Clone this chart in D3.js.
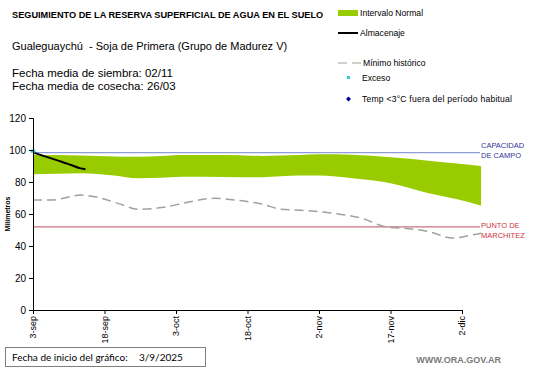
<!DOCTYPE html>
<html><head><meta charset="utf-8">
<script src="https://cdn.jsdelivr.net/npm/d3@7"></script>
<style>
html,body{margin:0;padding:0;background:#fff;}
svg{display:block;font-family:"Liberation Sans",Arial,sans-serif;}
</style></head>
<body><svg id="c" width="541" height="368"></svg>
<script>
// ---- data ----
const xTickDays = [0, 15, 30, 45, 60, 75, 90];
const xTickLabels = ["3-sep", "18-sep", "3-oct", "18-oct", "2-nov", "17-nov", "2-dic"];
const yTicks = [0, 20, 40, 60, 80, 100, 120];

const bandDays  = [0, 5, 10, 17, 22, 27, 31, 40, 48, 56, 60, 67, 75, 83, 89, 94];
const bandUpper = [97, 96.8, 96.5, 96, 95.8, 96.3, 96.9, 96.8, 96.3, 96.8, 97.3, 97, 95.4, 93.3, 91.5, 90];
const bandLower = [84.8, 85.1, 85.4, 84, 82.3, 82.6, 83.3, 83.2, 83, 84, 84, 82.3, 79.2, 73, 69.2, 65.2];

const minDays   = [0, 4, 10, 13, 18, 22, 27, 33, 38, 43, 48, 52, 57, 62, 69, 74, 79, 83, 88, 92, 94];
const minValues = [68.8, 68.8, 71.8, 70.8, 66.5, 63, 64, 67.7, 69.8, 68.5, 66.2, 63, 62.2, 60.8, 57.3, 52, 50.8, 49, 45, 46.8, 48];

const storageDays   = [0, 2, 4, 6, 8, 10, 11];
const storageValues = [98.5, 96.5, 94.6, 92.7, 90.6, 88.5, 88];

const excessDays   = [0];
const excessValues = [99.3];

const capacity = 98.3;
const wilting  = 52;

// ---- drawing ----
const svg = d3.select("#c");
const x = d3.scaleLinear().domain([0, 90]).range([33, 462]);
const y = d3.scaleLinear().domain([0, 120]).range([310, 118]);

// band
const band = bandDays.map((d, i) => ({d, u: bandUpper[i], l: bandLower[i]}));
svg.append("path").datum(band)
  .attr("fill", "#99cc00")
  .attr("d", d3.area().x(p => x(p.d)).y0(p => y(p.l)).y1(p => y(p.u)).curve(d3.curveMonotoneX));

// reference lines
svg.append("line").attr("x1", x(0)).attr("x2", 480).attr("y1", y(capacity)).attr("y2", y(capacity))
  .attr("stroke", "#8f9fd6").attr("stroke-width", 1.2);
svg.append("line").attr("x1", x(0)).attr("x2", 480).attr("y1", y(wilting)).attr("y2", y(wilting))
  .attr("stroke", "#cc7080").attr("stroke-width", 1.2);

// min line
const minData = minDays.map((d, i) => ({d, v: minValues[i]}));
svg.append("path").datum(minData)
  .attr("fill", "none").attr("stroke", "#a0a0a0").attr("stroke-width", 1.5)
  .attr("stroke-dasharray", "9,5")
  .attr("d", d3.line().x(p => x(p.d)).y(p => y(p.v)).curve(d3.curveMonotoneX));

// storage line
const stData = storageDays.map((d, i) => ({d, v: storageValues[i]}));
svg.append("path").datum(stData)
  .attr("fill", "none").attr("stroke", "#000").attr("stroke-width", 2)
  .attr("d", d3.line().x(p => x(p.d)).y(p => y(p.v)).curve(d3.curveMonotoneX));

// excess markers
svg.selectAll(".ex").data(excessDays).enter().append("rect")
  .attr("x", (d) => x(d) - 2.5).attr("y", (d, i) => y(excessValues[i]) - 1.5)
  .attr("width", 5).attr("height", 3).attr("fill", "#33ccdd");

// axes
const yAxis = d3.axisLeft(y).tickValues(yTicks).tickSize(4).tickPadding(3);
const gy = svg.append("g").attr("transform", `translate(${x(0)},0)`).call(yAxis);
gy.select(".domain").attr("stroke", "#000");
gy.selectAll("text").attr("font-size", 10).attr("fill", "#000").attr("font-family", "Liberation Sans, Arial, sans-serif");

const xAxis = d3.axisBottom(x).tickValues(xTickDays).tickFormat((d, i) => xTickLabels[i]).tickSize(4).tickSizeOuter(0);
const gx = svg.append("g").attr("transform", `translate(0,${y(0)})`).call(xAxis);
gx.selectAll("text").attr("font-size", 9).attr("fill", "#000")
  .attr("font-family", "Liberation Sans, Arial, sans-serif")
  .attr("transform", "rotate(-90)").attr("text-anchor", "end")
  .attr("y", 0).attr("dy", "0.32em").attr("x", -6).attr("dx", 0);

// y axis title
svg.append("text").attr("transform", "translate(10,214) rotate(-90)")
  .attr("text-anchor", "middle").attr("font-size", 7).attr("font-weight", "bold").attr("fill", "#000")
  .text("Milímetros");

// right labels
svg.append("text").attr("x", 481).attr("y", 148).attr("font-size", 7.5).attr("fill", "#333399").text("CAPACIDAD");
svg.append("text").attr("x", 481).attr("y", 158).attr("font-size", 7.5).attr("fill", "#333399").text("DE  CAMPO");
svg.append("text").attr("x", 481).attr("y", 228).attr("font-size", 7.5).attr("fill", "#cc3344").text("PUNTO  DE");
svg.append("text").attr("x", 481).attr("y", 238).attr("font-size", 7.5).attr("fill", "#cc3344").text("MARCHITEZ");

// titles
svg.append("text").attr("x", 12).attr("y", 18).attr("font-size", 9.2).attr("font-weight", "bold").attr("fill", "#000")
  .text("SEGUIMIENTO DE LA RESERVA SUPERFICIAL DE AGUA EN EL SUELO");
svg.append("text").attr("x", 12).attr("y", 50).attr("font-size", 11).attr("fill", "#000")
  .attr("xml:space", "preserve").style("white-space", "pre")
  .text("Gualeguaychú  - Soja de Primera (Grupo de Madurez V)");
svg.append("text").attr("x", 12).attr("y", 77).attr("font-size", 11.5).attr("fill", "#000").text("Fecha media de siembra: 02/11");
svg.append("text").attr("x", 12).attr("y", 90).attr("font-size", 11.5).attr("fill", "#000").text("Fecha media de cosecha: 26/03");

// legend
const lg = svg.append("g");
lg.append("rect").attr("x", 338).attr("y", 10).attr("width", 20).attr("height", 6).attr("fill", "#99cc00");
lg.append("text").attr("x", 360).attr("y", 16).attr("font-size", 8.6).attr("fill", "#000").text("Intervalo Normal");
lg.append("line").attr("x1", 338).attr("x2", 358).attr("y1", 33).attr("y2", 33).attr("stroke", "#000").attr("stroke-width", 2);
lg.append("text").attr("x", 360).attr("y", 36).attr("font-size", 8.6).attr("fill", "#000").text("Almacenaje");
lg.append("line").attr("x1", 338).attr("x2", 361).attr("y1", 63).attr("y2", 63).attr("stroke", "#a0a0a0").attr("stroke-width", 1.2).attr("stroke-dasharray", "9,5");
lg.append("text").attr("x", 363).attr("y", 66).attr("font-size", 8.6).attr("fill", "#000").text("Mínimo histórico");
lg.append("rect").attr("x", 347).attr("y", 76).attr("width", 3).attr("height", 3).attr("fill", "#33ccdd");
lg.append("text").attr("x", 362).attr("y", 81).attr("font-size", 8.6).attr("fill", "#000").text("Exceso");
lg.append("path").attr("d", "M348.5,96.5 L351,99 L348.5,101.5 L346,99 Z").attr("fill", "#000099");
lg.append("text").attr("x", 362).attr("y", 102).attr("font-size", 8.6).attr("fill", "#000")
  .attr("textLength", 150).attr("lengthAdjust", "spacing").text("Temp <3°C fuera del período habitual");

// bottom box
svg.append("rect").attr("x", 5.5).attr("y", 347.5).attr("width", 200).attr("height", 19)
  .attr("fill", "#fff").attr("stroke", "#808080").attr("stroke-width", 1);
svg.append("text").attr("x", 12).attr("y", 361).attr("font-size", 10).attr("fill", "#000")
  .attr("font-family", "Lato, sans-serif").text("Fecha de inicio del gráfico:");
svg.append("text").attr("x", 139).attr("y", 361).attr("font-size", 10).attr("fill", "#000")
  .attr("font-family", "Lato, sans-serif").text("3/9/2025");
svg.append("text").attr("x", 501).attr("y", 363).attr("text-anchor", "end").attr("font-size", 9).attr("font-weight", "bold").attr("fill", "#7a7a7a")
  .text("WWW.ORA.GOV.AR");
</script></body></html>
